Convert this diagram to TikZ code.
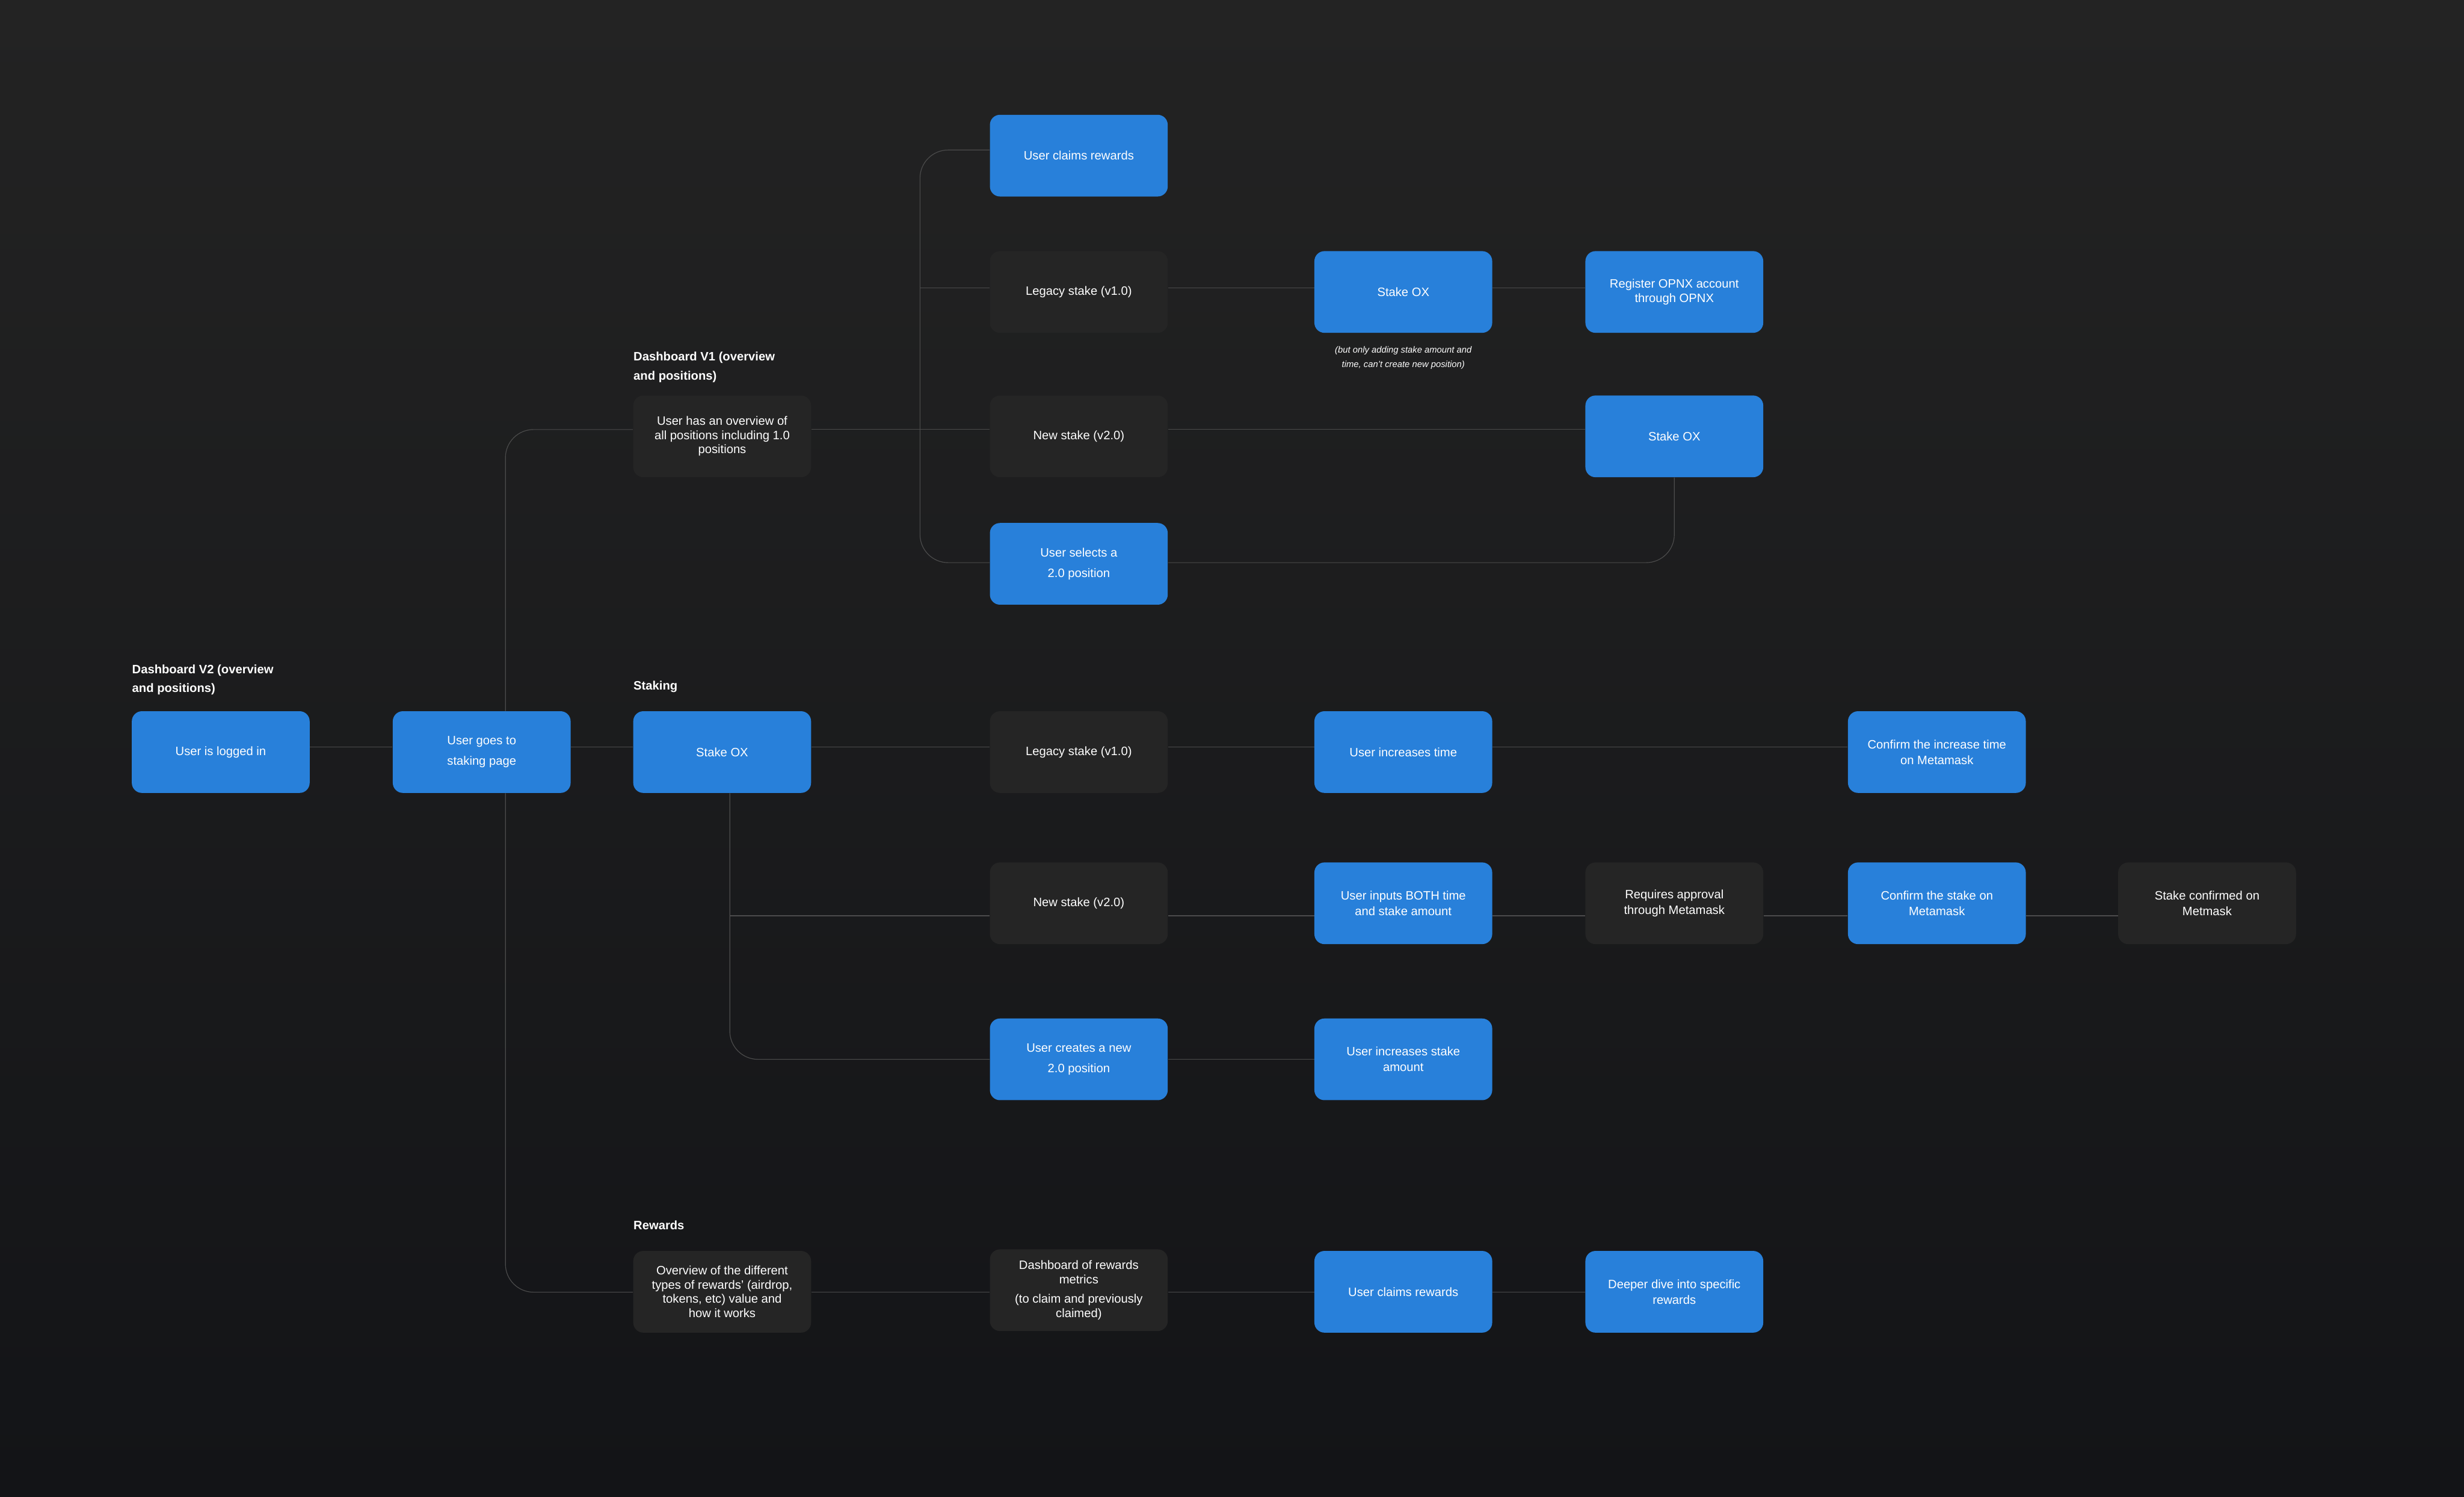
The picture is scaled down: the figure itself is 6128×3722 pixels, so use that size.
\documentclass[tikz,border=0pt]{standalone}
\usepackage{fontspec}
\setmainfont{Liberation Sans}
\definecolor{bgtop}{HTML}{232323}
\definecolor{bgbot}{HTML}{131417}
\definecolor{bluec}{HTML}{2880DA}
\definecolor{darkc}{HTML}{252525}
\definecolor{linec}{HTML}{4C4C4C}
\pgfdeclarelayer{backmost}
\pgfdeclarelayer{lines}
\pgfsetlayers{backmost,lines,main}
\begin{document}
\begin{tikzpicture}[x=0.01cm, y=-0.01cm,
  flowbox/.style={rounded corners=0.25cm, minimum width=4.42cm, minimum height=2.03cm, inner sep=0pt, align=center, text=white, font=\fontsize{8.6}{11}\selectfont},
  bluebox/.style={flowbox, fill=bluec},
  darkbox/.style={flowbox, fill=darkc},
  wide/.style={font=\fontsize{8.6}{14.5}\selectfont},
  tight/.style={font=\fontsize{8.6}{10}\selectfont},
  conn/.style={draw=linec, line width=0.5pt, rounded corners=0.7cm},
  hdr/.style={text=white, font=\bfseries\fontsize{8.6}{13.4}\selectfont, align=left, inner sep=0pt},
  annot/.style={text=white, font=\itshape\fontsize{6.3}{10}\selectfont, align=center, inner sep=0pt}]

\begin{pgfonlayer}{backmost}
  \shade[top color=bgtop, bottom color=bgbot] (0,0) rectangle (6128,3722);
\end{pgfonlayer}

% line levels and vertical rails
\coordinate (L0) at (0,373);
\coordinate (L1) at (0,716);
\coordinate (L2) at (0,1068);
\coordinate (L3) at (0,1399);
\coordinate (L4) at (0,1858);
\coordinate (L5) at (0,2277);
\coordinate (L6) at (0,2634);
\coordinate (L7) at (0,3213);
\coordinate (gx) at (1257,0);
\coordinate (vx2) at (2288,0);
\coordinate (vx3) at (1815,0);

% headers
\node[hdr, anchor=north west] (hV1) at (1575,875) {Dashboard V1 (overview\\and positions)};
\node[hdr, anchor=north west] (hV2) at (328,1652) {Dashboard V2 (overview\\and positions)};
\node[hdr, anchor=base west] (hStaking) at (1575,1715) {Staking};
\node[hdr, anchor=base west] (hRewards) at (1575,3057) {Rewards};

% top section
\node[bluebox] (claimsTop) at (2683,387) {User claims rewards};
\node[darkbox] (legacyA) at (2683,726) {Legacy stake (v1.0)};
\node[bluebox] (stakeA) at (3490,726) {Stake OX};
\node[bluebox, tight] (register) at (4164,726) {Register OPNX account\\through OPNX};
\node[annot] (noteA) at (3490,890) {(but only adding stake amount and\\time, can't create new position)};
\node[darkbox, tight] (overview) at (1796,1085) {User has an overview of\\all positions including 1.0\\positions};
\node[darkbox] (newA) at (2683,1085) {New stake (v2.0)};
\node[bluebox] (stakeB) at (4164,1085) {Stake OX};
\node[bluebox, wide] (selects) at (2683,1402) {User selects a\\2.0 position};

% staking section
\node[bluebox] (login) at (549,1870) {User is logged in};
\node[bluebox, wide] (gotoStake) at (1198,1870) {User goes to\\staking page};
\node[bluebox] (stakeC) at (1796,1870) {Stake OX};
\node[darkbox] (legacyB) at (2683,1870) {Legacy stake (v1.0)};
\node[bluebox] (incTime) at (3490,1870) {User increases time};
\node[bluebox] (confTime) at (4817,1870) {Confirm the increase time\\on Metamask};
\node[darkbox] (newB) at (2683,2246) {New stake (v2.0)};
\node[bluebox] (both) at (3490,2246) {User inputs BOTH time\\and stake amount};
\node[darkbox] (requires) at (4164,2246) {Requires approval\\through Metamask};
\node[bluebox] (confStake) at (4817,2246) {Confirm the stake on\\Metamask};
\node[darkbox] (stakeDone) at (5489,2246) {Stake confirmed on\\Metmask};
\node[bluebox, wide] (creates) at (2683,2634) {User creates a new\\2.0 position};
\node[bluebox] (incAmount) at (3490,2634) {User increases stake\\amount};

% rewards section
\node[darkbox, tight] (rewOverview) at (1796,3212) {Overview of the different\\types of rewards' (airdrop,\\tokens, etc) value and\\how it works};
\node[darkbox, tight] (rewDash) at (2683,3208) {Dashboard of rewards\\metrics\\[4pt](to claim and previously\\claimed)};
\node[bluebox] (claimsBot) at (3490,3212) {User claims rewards};
\node[bluebox] (deeper) at (4164,3212) {Deeper dive into specific\\rewards};

\begin{pgfonlayer}{lines}
  % rails from "User goes to staking page"
  \draw[conn] (overview.west |- L2) -| (gx |- gotoStake.north);
  \draw[conn] (gx |- gotoStake.south) |- (rewOverview.west |- L7);
  % top rail
  \draw[conn] (claimsTop.west |- L0) -| (vx2 |- L2) |- (selects.west |- L3);
  \draw[conn] (vx2 |- L1) -- (legacyA.west |- L1);
  \draw[conn] (legacyA.east |- L1) -- (stakeA.west |- L1);
  \draw[conn] (stakeA.east |- L1) -- (register.west |- L1);
  \draw[conn] (overview.east |- L2) -- (newA.west |- L2);
  \draw[conn] (newA.east |- L2) -- (stakeB.west |- L2);
  \draw[conn] (stakeB.south) |- (selects.east |- L3);
  % staking row
  \draw[conn] (login.east |- L4) -- (gotoStake.west |- L4);
  \draw[conn] (gotoStake.east |- L4) -- (stakeC.west |- L4);
  \draw[conn] (stakeC.east |- L4) -- (legacyB.west |- L4);
  \draw[conn] (legacyB.east |- L4) -- (incTime.west |- L4);
  \draw[conn] (incTime.east |- L4) -- (confTime.west |- L4);
  % staking branches
  \draw[conn] (vx3 |- stakeC.south) |- (creates.west |- L6);
  \draw[conn] (vx3 |- L5) -- (newB.west |- L5);
  \draw[conn] (newB.east |- L5) -- (both.west |- L5);
  \draw[conn] (both.east |- L5) -- (requires.west |- L5);
  \draw[conn] (requires.east |- L5) -- (confStake.west |- L5);
  \draw[conn] (confStake.east |- L5) -- (stakeDone.west |- L5);
  \draw[conn] (creates.east |- L6) -- (incAmount.west |- L6);
  % rewards row
  \draw[conn] (rewOverview.east |- L7) -- (rewDash.west |- L7);
  \draw[conn] (rewDash.east |- L7) -- (claimsBot.west |- L7);
  \draw[conn] (claimsBot.east |- L7) -- (deeper.west |- L7);
\end{pgfonlayer}
\end{tikzpicture}
\end{document}
